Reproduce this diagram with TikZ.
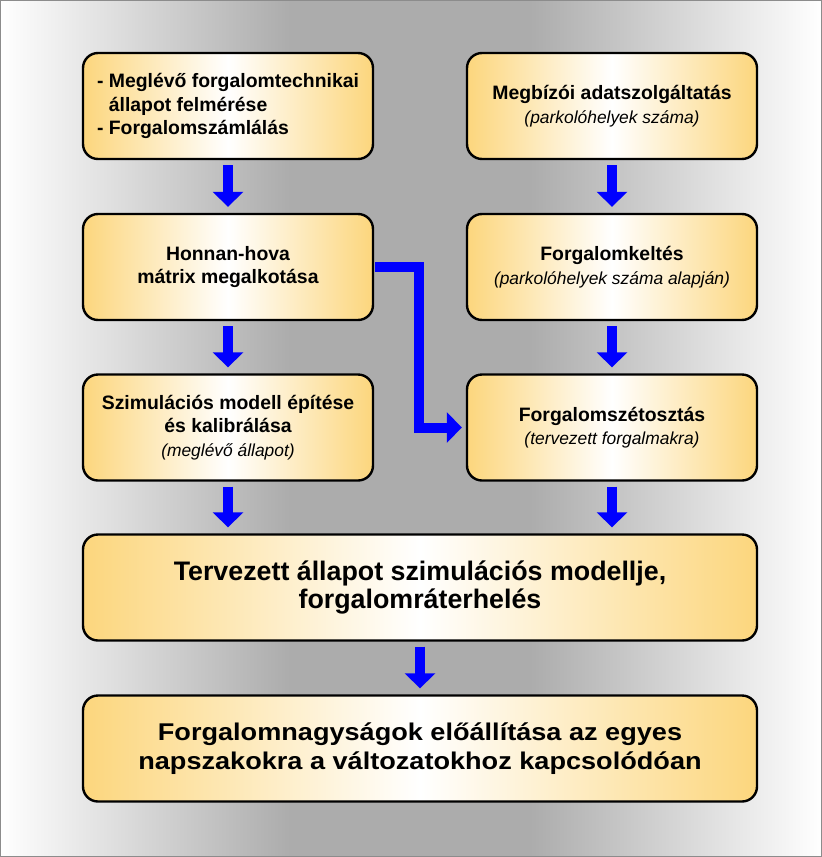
\documentclass[tikz,border=0pt]{standalone}
\usepackage{fontspec}
\setmainfont{Liberation Sans}
\newfontfamily\widesans[FakeStretch=1.12]{Liberation Sans}
\definecolor{boxorange}{RGB}{252, 214, 125}
\definecolor{arrowblue}{RGB}{0, 0, 255}
\definecolor{bggrey}{RGB}{172, 172, 172}
\definecolor{framegrey}{RGB}{140, 140, 140}
\usetikzlibrary{arrows.meta, positioning}

\tikzset{
  stepbox/.style={draw=black, line width=1.2pt, rounded corners=7.5pt,
    left color=boxorange, right color=boxorange, middle color=white,
    minimum width=145pt, minimum height=53pt, inner sep=0pt, align=center,
    font=\fontsize{9.7}{11.75}\selectfont\bfseries},
  bigbox/.style={stepbox, minimum width=337pt,
    font=\fontsize{13.4}{14}\selectfont\bfseries},
  flowarrow/.style={arrowblue, line width=5pt, line join=miter,
    -{Triangle[width=15pt, length=7.5pt]}, shorten <=2.5pt, shorten >=3pt},
}
\newcommand{\subnote}[1]{{\fontsize{8.7}{11.75}\selectfont\mdseries\itshape #1}}

\begin{document}
\begin{tikzpicture}[x=0.5pt, y=-0.5pt]
  \useasboundingbox (0, 0) rectangle (822, 857);
  % === background ===
  \shade[left color=white, right color=bggrey] (0, 0) rectangle (290, 857);
  \fill[bggrey] (289, 0) rectangle (531, 857);
  \shade[left color=bggrey, right color=white] (530, 0) rectangle (822, 857);
  \draw[framegrey, line width=0.5pt] (0.5, 0.5) rectangle (821.5, 856.5);

  % === left column ===
  \node[stepbox, align=left] (survey) at (228, 106)
    {- Meglévő forgalomtechnikai\\\hspace*{5.9pt}állapot felmérése\\- Forgalomszámlálás};
  \node[stepbox] (honnan) at (228, 267) {Honnan-hova\\mátrix megalkotása};
  \node[stepbox] (szimul) at (228, 427.5)
    {Szimulációs modell építése\\és kalibrálása\\\subnote{(meglévő állapot)}};

  % === right column ===
  \node[stepbox] (adat) at (612, 106)
    {Megbízói adatszolgáltatás\\\subnote{(parkolóhelyek száma)}};
  \node[stepbox] (keltes) at (612, 267)
    {Forgalomkeltés\\\subnote{(parkolóhelyek száma alapján)}};
  \node[stepbox] (szet) at (612, 427.5)
    {Forgalomszétosztás\\\subnote{(tervezett forgalmakra)}};

  % === bottom ===
  \node[bigbox] (tervezett) at (420, 587.5)
    {Tervezett állapot szimulációs modellje,\\forgalomráterhelés};
  \node[bigbox, font=\widesans\fontsize{12.1}{14.7}\selectfont\bfseries] (nagysag) at (420, 748.5)
    {Forgalomnagyságok előállítása az egyes\\napszakokra a változatokhoz kapcsolódóan};

  % === arrows ===
  \draw[flowarrow] (survey) -- (honnan);
  \draw[flowarrow] (honnan) -- (szimul);
  \draw[flowarrow] (adat) -- (keltes);
  \draw[flowarrow] (keltes) -- (szet);
  \draw[flowarrow, shorten <=0.6pt, shorten >=2pt] (honnan.east) -- ++(45, 0) |- (szet.west);
  \draw[flowarrow] (szimul.south) -- (szimul.south |- tervezett.north);
  \draw[flowarrow] (szet.south) -- (szet.south |- tervezett.north);
  \draw[flowarrow] (tervezett) -- (nagysag);
\end{tikzpicture}
\end{document}
